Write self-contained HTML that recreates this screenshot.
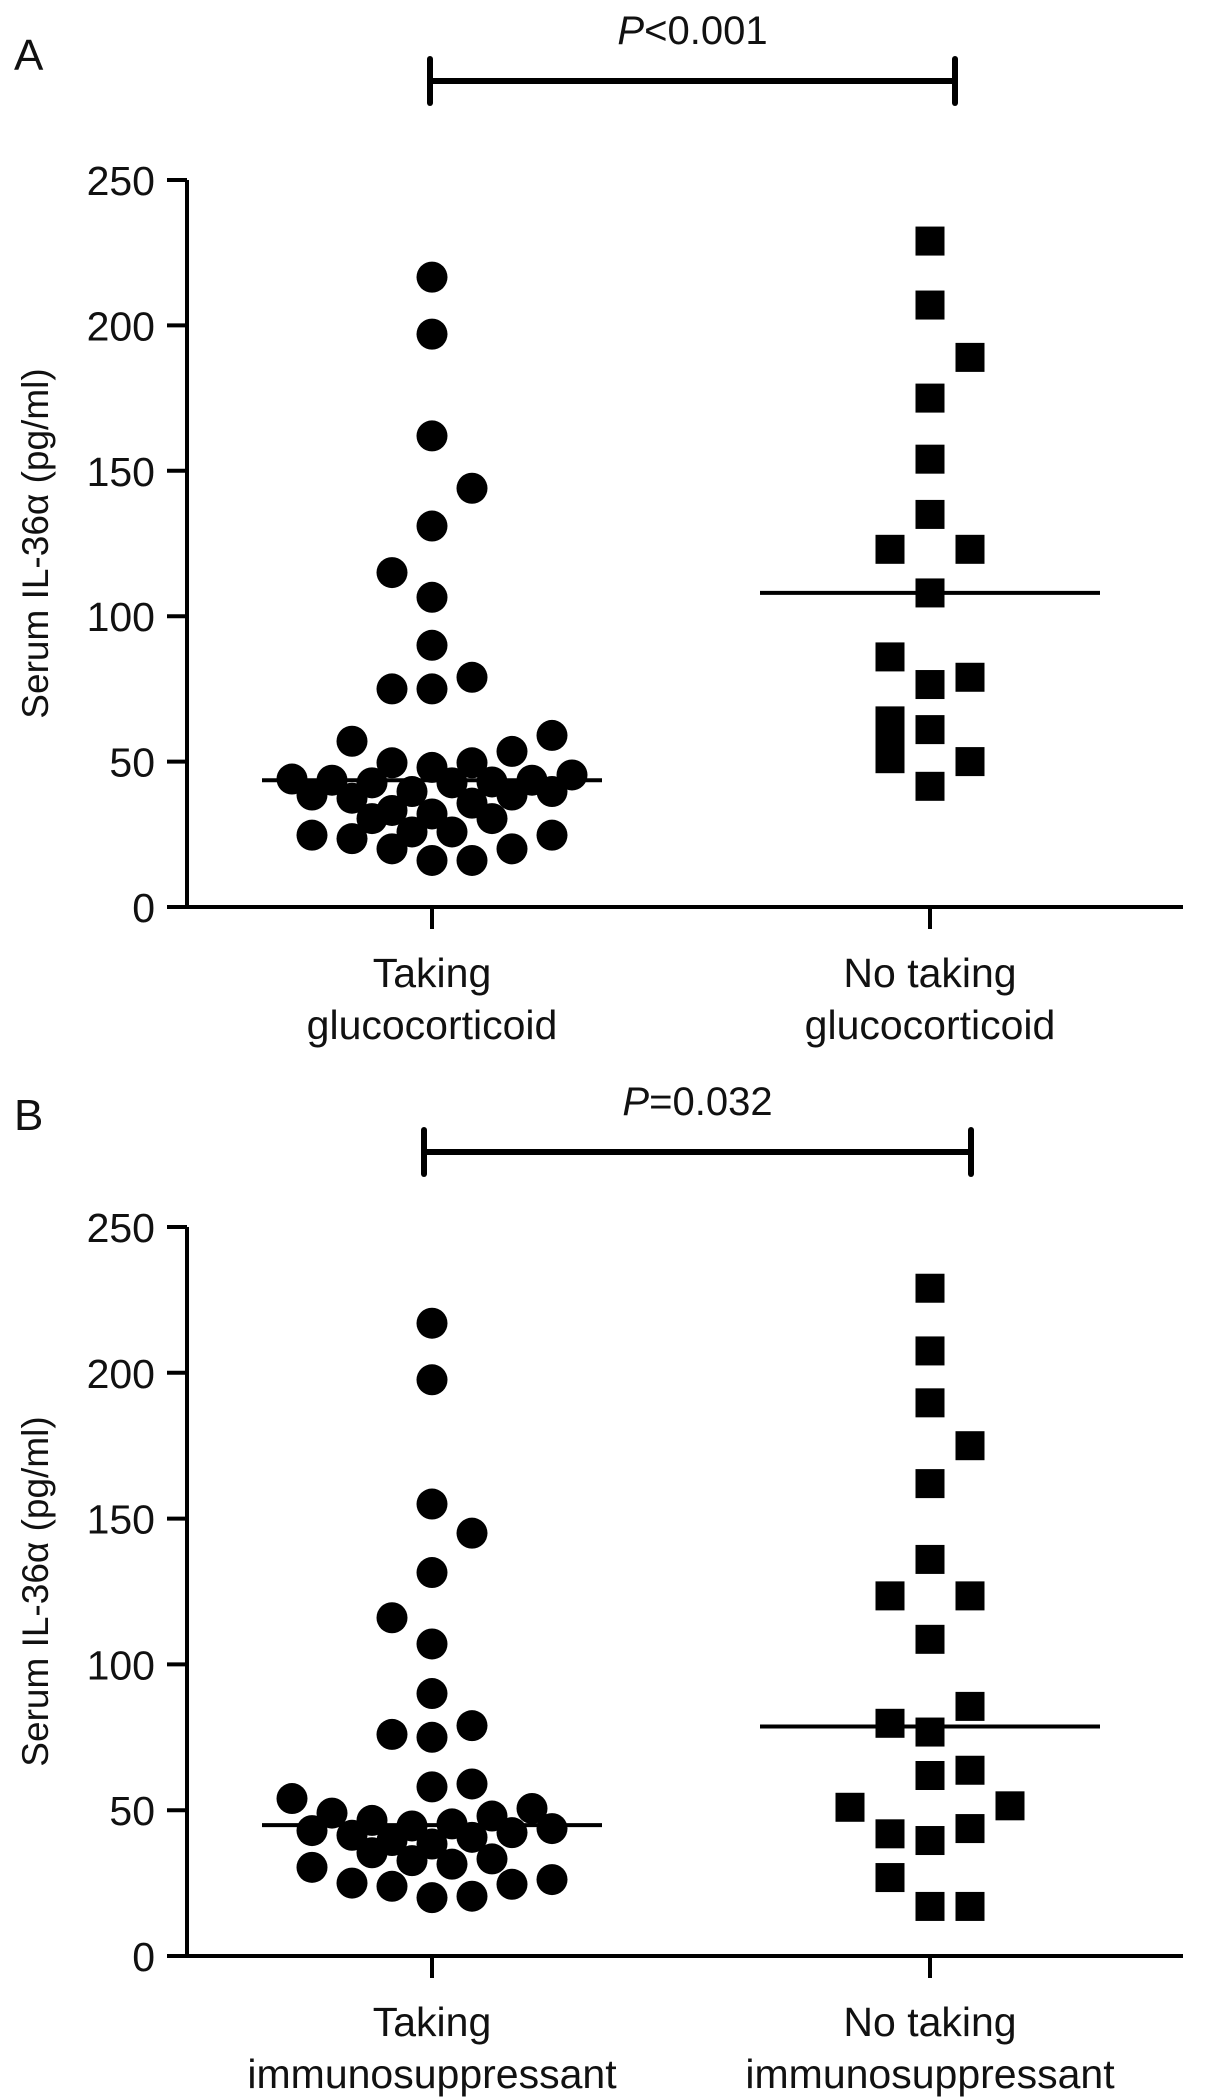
<!DOCTYPE html>
<html><head><meta charset="utf-8"><style>
html,body{margin:0;padding:0;background:#fff;}
svg{display:block;font-family:"Liberation Sans",Arial,sans-serif;}
</style></head><body>
<svg id="chart" width="1205" height="2099" viewBox="0 0 1205 2099" xmlns="http://www.w3.org/2000/svg"></svg>
<script>
// Panel A data
const catsA = ["Taking|glucocorticoid", "No taking|glucocorticoid"];
const circA = [216.6,197,162,144,131,115,106.5,90,75,75,79,57,59,53.5,49.6,48,49.6,44,43.6,42.7,42.7,43,43.6,45.4,38.5,37.4,39.7,38.5,39.7,30.4,33.2,32,35.7,30.4,25.8,25.8,24.7,23.5,24.7,20,20,16,16];
const circAJ = [0,0,0,2,0,-2,0,0,-2,0,2,-4,6,4,-2,0,2,-7,-5,-3,1,3,5,7,-6,-4,-1,4,6,-3,-2,0,2,3,-1,1,-6,-4,6,-2,4,0,2];
const sqA = [229,207,189,175,154,135,123,123,108,86,76.5,79,64,61,58,51,50,41.5];
const sqAJ = [0,0,2,0,0,0,-2,2,0,-2,0,2,-2,0,-2,-2,2,0];
const medA = [43.6, 108];
const pA = "<0.001";
// Panel B data
const catsB = ["Taking|immunosuppressant", "No taking|immunosuppressant"];
const circB = [217,197.6,155,145,131.5,116,107,90,76,75,79,58,59,54,49,50.6,46.5,44.6,45.3,48,43,41.4,42.3,43.7,39.6,38.4,40.7,35.4,32.7,31.5,33.3,30.4,25,26.2,23.9,24.6,20,20.5];
const circBJ = [0,0,0,2,0,-2,0,0,-2,0,2,0,2,-7,-5,5,-3,-1,1,3,-6,-4,4,6,-2,0,2,-3,-1,1,3,-6,-4,6,-2,4,0,2];
const sqB = [229,207.5,189.7,175,162,136,123.5,123.5,108.6,85.6,79.8,76.8,61.9,63.7,51,51.5,41.9,43.7,39.6,26.9,17,17];
const sqBJ = [0,0,0,2,0,0,-2,2,0,2,-2,0,0,2,-4,4,-2,2,0,-2,0,2];
const medB = [44.9, 78.7];
const pB = "=0.032";
const yTicks = [0,50,100,150,200,250];

const NS = "http://www.w3.org/2000/svg";
const svg = document.getElementById("chart");
function mk(tag, attrs, parent){const e=document.createElementNS(NS,tag);for(const k in attrs)e.setAttribute(k,attrs[k]);(parent||svg).appendChild(e);return e;}

function panel(o){
  const g = mk("g",{});
  
  
  const x0=187, x1=1183, yTop=o.yTop, yBot=o.yBot;
  const y = v => yBot - v/250*(yBot-yTop);
  const cx = [432, 930];
  const unit = 20;
  const L = mk("text",{x:14,y:o.letterY,"font-size":44,fill:"#111"},g); L.textContent=o.letter;
  
  
  const pb = mk("g",{stroke:"#000","stroke-width":6,"stroke-linecap":"round"},g);
  
  
  mk("line",{x1:o.pbx[0],x2:o.pbx[1],y1:o.pby,y2:o.pby},pb);
  mk("line",{x1:o.pbx[0],x2:o.pbx[0],y1:o.pby-22,y2:o.pby+22},pb);
  mk("line",{x1:o.pbx[1],x2:o.pbx[1],y1:o.pby-22,y2:o.pby+22},pb);
  const pt = mk("text",{x:(o.pbx[0]+o.pbx[1])/2,y:o.pby-37,"font-size":40,"text-anchor":"middle",fill:"#111"},g);
  
  
  const ti = mk("tspan",{"font-style":"italic"},pt); ti.textContent="P";
  const tr = mk("tspan",{},pt); tr.textContent=o.p;
  const ax = mk("path",{d:`M${x0} ${yTop} V${yBot} H${x1}`,fill:"none",stroke:"#000","stroke-width":4},g);
  
  
  yTicks.forEach(t=>{
    mk("line",{x1:x0-20,x2:x0,y1:y(t),y2:y(t),stroke:"#000","stroke-width":4},g);
    const tl = mk("text",{x:x0-32,y:y(t)+15,"font-size":41,"text-anchor":"end",fill:"#111"},g);
    tl.textContent=t;
    
    
  });
  const yt = mk("text",{x:0,y:0,"font-size":37,"text-anchor":"middle",fill:"#111",transform:`translate(48 ${(yTop+yBot)/2}) rotate(-90)`},g);
  yt.textContent="Serum IL-36\u03b1 (pg/ml)";
  
  
  o.cats.forEach((c,i)=>{
    mk("line",{x1:cx[i],x2:cx[i],y1:yBot,y2:yBot+22,stroke:"#000","stroke-width":4},g);
    const parts=c.split("|");
    parts.forEach((p,j)=>{
      const t = mk("text",{x:cx[i],y:yBot+80+j*52,"font-size":41,"text-anchor":"middle",fill:"#111"},g);
      t.textContent=p;
      
      
    });
  });
  o.circ.forEach((v,i)=>{
    const c = mk("circle",{cx:cx[0]+o.circJ[i]*unit,cy:y(v),r:15.5,fill:"#000"},g);
    
    
  });
  o.sq.forEach((v,i)=>{
    const s = mk("rect",{x:cx[1]+o.sqJ[i]*unit-14.5,y:y(v)-14.5,width:29,height:29,fill:"#000"},g);
    
    
  });
  o.med.forEach((m,i)=>{
    const l = mk("line",{x1:cx[i]-170,x2:cx[i]+170,y1:y(m),y2:y(m),stroke:"#000","stroke-width":4},g);
    
    
  });
}
panel({name:"panel-a",letter:"A",letterY:70,yTop:180,yBot:907,pbx:[430,955],pby:81,p:pA,cats:catsA,circ:circA,circJ:circAJ,sq:sqA,sqJ:sqAJ,med:medA});
panel({name:"panel-b",letter:"B",letterY:1130,yTop:1227,yBot:1956,pbx:[424,971],pby:1152,p:pB,cats:catsB,circ:circB,circJ:circBJ,sq:sqB,sqJ:sqBJ,med:medB});
</script>
</body></html>
